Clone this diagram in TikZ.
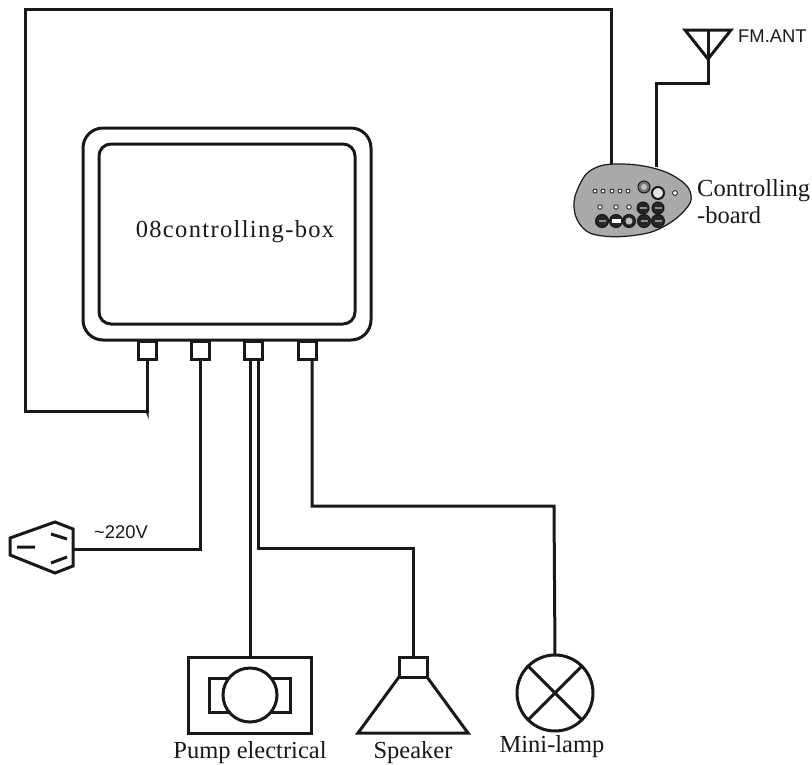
\documentclass[tikz,border=0pt]{standalone}
\usepackage{fontspec}
\setmainfont{Liberation Serif}
\newfontfamily\labelsans{Liberation Sans}
\definecolor{ink}{HTML}{1A1717}
\definecolor{boardgrey}{HTML}{A9A9AB}
\tikzset{
  wire/.style={draw=ink,line width=3pt,line join=miter},
  portbox/.style={draw=ink,line width=3pt,fill=white,minimum width=18pt,minimum height=18pt,inner sep=0pt,outer sep=0pt},
  serif/.style={inner sep=0pt,text=ink,font=\fontsize{24.5}{28}\selectfont},
  sans/.style={inner sep=0pt,text=ink,font=\labelsans\fontsize{18.4}{22}\selectfont},
  led/.style={fill=white,draw=ink,line width=.8pt},
  knob/.style={draw=ink,line width=1pt,fill=black!85},
  knobface/.style={fill=black!45},
}
\begin{document}
\begin{tikzpicture}[x=1pt,y=-1pt]
\useasboundingbox (0,0) rectangle (812,764);
% controlling box
\draw[wire,rounded corners=20pt] (83,128) rectangle (371,340);
\draw[wire,rounded corners=12pt] (99,144) rectangle (355,324);
\node[serif] (boxlabel) at (235,232) {\addfontfeature{LetterSpace=5.5}08controlling-box};
% ports
\node[portbox] (p1) at (147,350) {};
\node[portbox] (p2) at (200,350) {};
\node[portbox] (p3) at (253.5,350) {};
\node[portbox] (p4) at (307,350) {};
% plug
\draw[wire,fill=white] (10,538) -- (55,522) -- (73,529) -- (73,566) -- (55,573) -- (10,555) -- cycle;
\draw[wire] (17,547) -- (35,547) (51,534) -- (67,539) (51,563) -- (67,557);
\coordinate (plug) at (73,549);
\node[sans,anchor=west] (v220) at (94,532) {\textasciitilde220V};
% pump
\node[draw=ink,line width=3pt,minimum width=123pt,minimum height=76pt,inner sep=0pt,outer sep=0pt] (pump) at (249.5,695) {};
\draw[wire] (209,678) rectangle (290,712);
\node[circle,draw=ink,line width=3pt,fill=white,minimum size=54pt,inner sep=0pt] (motor) at (250,695) {};
\node[serif] (pumplabel) at (250,752.5) {Pump electrical};
% speaker
\node[draw=ink,line width=3pt,minimum width=28pt,minimum height=20pt,inner sep=0pt,outer sep=0pt] (spk) at (413,667) {};
\draw[wire] (399,677) -- (358,733) -- (468,733) -- (427,677);
\node[serif] (spklabel) at (413,752.5) {Speaker};
% lamp
\node[circle,draw=ink,line width=3pt,minimum size=76pt,inner sep=0pt,outer sep=0pt] (lamp) at (555,693) {};
\draw[wire] (lamp.45) -- (lamp.225) (lamp.135) -- (lamp.315);
\node[serif] (lamplabel) at (552,747) {Mini-lamp};
% antenna
\draw[wire] (685,30) -- (731,30) -- (708,59) -- cycle;
\coordinate (ant) at (708,30);
\node[sans,anchor=west] (fm) at (738,36) {FM.ANT};
% board
\coordinate (boardA) at (611,167);
\coordinate (boardB) at (656,167);
\draw[wire] (boardA) |- (25,9) |- (147,411) -- (p1.south);
\fill[ink] (145.5,411) -- (148.5,411) -- (148.5,419) -- cycle;
\draw[wire] (ant) -- (708,83) -| (boardB);
\draw[draw=ink,line width=1.2pt,fill=boardgrey] plot[smooth cycle,tension=0.7] coordinates {(574,207) (580,184) (593,169) (617,164) (653,168) (680,180) (691,195) (685,210) (663,227) (637,235) (603,236) (583,228)};
\foreach \x in {595,603,612,620,628} \fill[led] (\x,191) circle (2pt);
\fill[led] (675,193) circle (2.4pt);
\foreach \x in {600,616,629} \fill[led] (\x,207) circle (2.2pt);
\fill[fill=black!55,draw=ink,line width=1pt] (644,187) circle (6pt);
\fill[fill=black!25] (644,187) circle (3pt);
\fill[fill=white!80!gray,draw=ink,line width=2pt] (658,193) circle (6pt);
\foreach \x in {643,658} {\fill[knob] (\x,208) circle (6pt); \fill[knobface] (\x-3.5,207) rectangle (\x+3.5,209);}
\foreach \x in {602,644,658} {\fill[knob] (\x,221) circle (6.5pt); \fill[knobface] (\x-3.5,220) rectangle (\x+3.5,222);}
\fill[knob] (616,221) circle (6.5pt);
\fill[white] (611.5,219) rectangle (620.5,223);
\fill[knob] (629,221) circle (6.5pt);
\fill[black!25] (629,221) circle (3.5pt);
\node[serif,anchor=west] (ctl1) at (697,191) {Controlling};
\node[serif,anchor=west] (ctl2) at (697,215) {-board};
% wires
\draw[wire] (p2.south) |- (plug);
\draw[wire] ([xshift=-3.5pt]p3.south) -- ([xshift=-3.5pt]p3.south |- pump.north);
\draw[wire] ([xshift=4.5pt]p3.south) |- (413,548) -- (spk.north);
\draw[wire] ([xshift=5pt]p4.south) |- (554,506) -- (lamp.north);
\end{tikzpicture}
\end{document}
